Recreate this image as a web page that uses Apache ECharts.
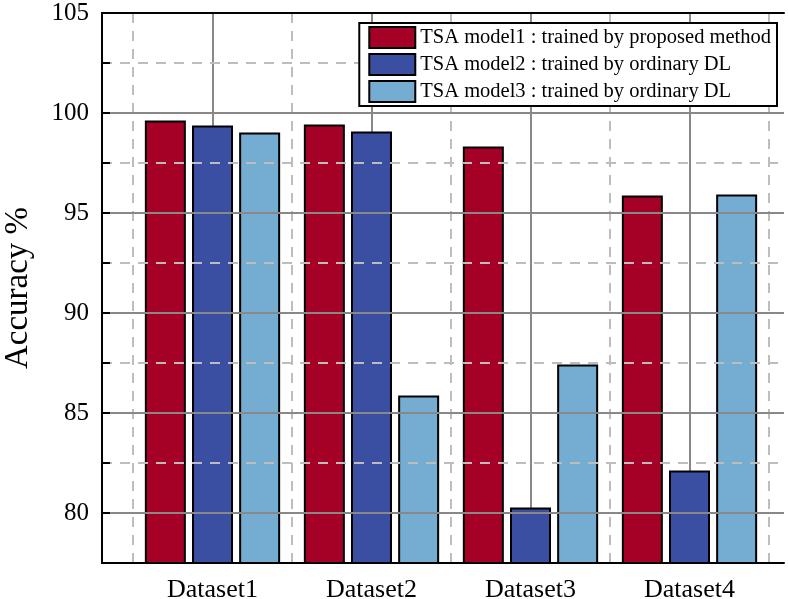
<!DOCTYPE html>
<html>
<head>
<meta charset="utf-8">
<script src="https://cdn.jsdelivr.net/npm/echarts@6/dist/echarts.min.js"></script>
<style>
  html, body { margin: 0; padding: 0; background: #fff; }
  #chart { width: 788px; height: 599px; }
</style>
</head>
<body>
<div id="chart"></div>
<script>
const categories = ["Dataset1", "Dataset2", "Dataset3", "Dataset4"]
const seriesNames = [
  "TSA model1 : trained by proposed method",
  "TSA model2 : trained by ordinary DL",
  "TSA model3 : trained by ordinary DL"
]
const model1 = [99.62, 99.42, 98.32, 95.88]
const model2 = [99.38, 99.08, 80.28, 82.12]
const model3 = [99.02, 85.88, 87.42, 95.92]
const yMin = 77.5
const yMax = 105

const colors = ["#A50026", "#3A4FA2", "#74ADD1"]
const font = "'Times New Roman', 'Liberation Serif', serif"
const solidGrey = "#888888"
const dashGrey = "#bdbdbd"

const chart = echarts.init(document.getElementById("chart"))

// grid 0 = frame + horizontal grid lines, grid 1 = bars + vertical grid lines
const barSeries = [model1, model2, model3].map((data, i) => ({
  name: seriesNames[i],
  type: "bar",
  xAxisIndex: 2,
  yAxisIndex: 2,
  data: data,
  barWidth: 41,
  barGap: "15%",
  itemStyle: { color: colors[i], borderColor: "#000", borderWidth: 2 },
  emphasis: { disabled: true },
  animation: false
}))

chart.setOption({
  animation: false,
  textStyle: { fontFamily: font },
  grid: [
    { left: 102, right: 4, top: 13, bottom: 36, containLabel: false, outerBoundsMode: "none" },
    { left: 133, right: 19, top: 13, bottom: 36, containLabel: false, outerBoundsMode: "none" }
  ],
  legend: {
    orient: "vertical",
    right: 11,
    top: 23,
    z: 20,
    icon: "rect",
    itemWidth: 46,
    itemHeight: 21,
    itemGap: 4,
    padding: [3, 6, 3, 9],
    backgroundColor: "#fff",
    borderColor: "#000",
    borderWidth: 2,
    textStyle: { fontFamily: font, fontSize: 20.5, color: "#000" },
    data: seriesNames
  },
  xAxis: [
    {
      // bottom frame line
      gridIndex: 0, type: "value", min: 0, max: 1, position: "bottom", z: 5,
      axisLine: { show: true, lineStyle: { color: "#000", width: 2 } },
      axisTick: { show: false }, axisLabel: { show: false }, splitLine: { show: false }
    },
    {
      // top frame line
      gridIndex: 0, type: "value", min: 0, max: 1, position: "top", z: 5,
      axisLine: { show: true, lineStyle: { color: "#000", width: 2 } },
      axisTick: { show: false }, axisLabel: { show: false }, splitLine: { show: false }
    },
    {
      gridIndex: 1, type: "category", data: categories, position: "bottom",
      axisLine: { show: false }, axisTick: { show: false },
      axisLabel: { fontFamily: font, fontSize: 26, color: "#000", margin: 14 },
      splitLine: { show: true, lineStyle: { color: dashGrey, width: 2, type: [10, 8] } }
    },
    {
      // solid lines through category centres
      gridIndex: 1, type: "value", min: 0.5, max: 4.5, interval: 0.5, position: "top",
      axisLine: { show: false }, axisTick: { show: false }, axisLabel: { show: false },
      splitLine: { show: true, lineStyle: { color: ["rgba(0,0,0,0)", solidGrey], width: 2 } }
    }
  ],
  yAxis: [
    {
      gridIndex: 0, type: "value", min: yMin, max: yMax, interval: 2.5, position: "left", z: 5,
      name: "Accuracy %", nameLocation: "middle", nameRotate: 90, nameGap: 67,
      nameTextStyle: { fontFamily: font, fontSize: 33, color: "#000" },
      axisLine: { show: true, lineStyle: { color: "#000", width: 2 } },
      axisTick: { show: true, inside: true, length: 8, lineStyle: { color: "#000", width: 2 } },
      axisLabel: {
        fontFamily: font, fontSize: 25, color: "#000", margin: 13,
        formatter: (v) => (v % 5 === 0 ? String(v) : "")
      },
      splitLine: { show: true, lineStyle: { color: ["rgba(0,0,0,0)", solidGrey], width: 2 } }
    },
    {
      // dashed half-step lines + right frame line
      gridIndex: 0, type: "value", min: yMin, max: yMax, interval: 5, position: "right", z: 5,
      axisLine: { show: true, lineStyle: { color: "#000", width: 2 } },
      axisTick: { show: false }, axisLabel: { show: false },
      splitLine: { show: true, lineStyle: { color: dashGrey, width: 2, type: [10, 8] } }
    },
    {
      gridIndex: 1, type: "value", min: yMin, max: yMax,
      axisLine: { show: false }, axisTick: { show: false }, axisLabel: { show: false },
      splitLine: { show: false }
    }
  ],
  series: barSeries
})
</script>
</body>
</html>
